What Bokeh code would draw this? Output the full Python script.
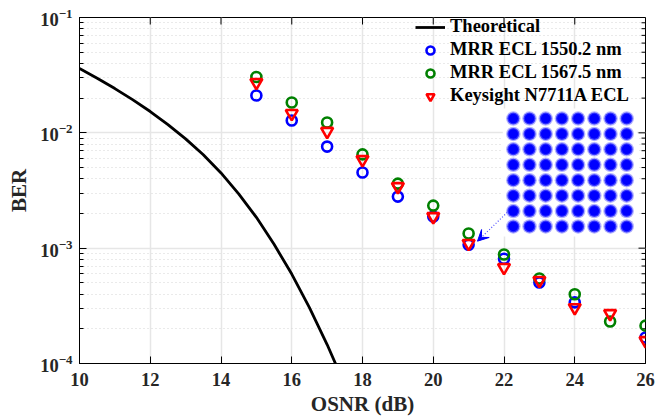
from bokeh.plotting import figure
from bokeh.models import (Range1d, LinearScale, FixedTicker, Legend, Arrow, VeeHead)
from bokeh.embed import file_html
from bokeh.resources import INLINE

# ---------------- data ----------------
theory_osnr = [10, 10.5, 11, 11.5, 12, 12.5, 13, 13.5, 14, 14.5, 15, 15.5, 16, 16.5, 17, 17.5]
theory_ber = [0.0361, 0.0297, 0.0242, 0.0194, 0.0153, 0.0118, 0.00887, 0.00646, 0.00449,
              0.00296, 0.00185, 0.00108, 0.000596, 0.000305, 0.000146, 0.0000653]

mrr1550_osnr = [15, 16, 17, 18, 19, 20, 21, 22, 23, 24, 26]
mrr1550_ber = [0.0211, 0.0128, 0.0076, 0.00453, 0.0028, 0.00188, 0.00107, 0.00081,
               0.000504, 0.000339, 0.000168]

mrr1567_osnr = [15, 16, 17, 18, 19, 20, 21, 22, 23, 24, 25, 26]
mrr1567_ber = [0.0305, 0.0183, 0.0123, 0.0065, 0.00363, 0.00234, 0.00134, 0.00088,
               0.000545, 0.000398, 0.000231, 0.000213]

keysight_osnr = [15, 16, 17, 18, 19, 20, 21, 22, 23, 24, 25, 26]
keysight_ber = [0.0273, 0.0147, 0.0103, 0.00586, 0.00342, 0.00188, 0.0011, 0.00068,
                0.000525, 0.000305, 0.000271, 0.000158]

x_ticks = [10, 12, 14, 16, 18, 20, 22, 24, 26]
y_decades = [1e-4, 1e-3, 1e-2, 1e-1]

# 64-QAM constellation levels (inset)
qam_levels = [-7, -5, -3, -1, 1, 3, 5, 7]

# ---------------- style / layout ----------------
FONT = "Liberation Serif"
TICK_SIZE = "18.5px"
LABEL_SIZE = "21px"
FRAME_W, FRAME_H = 566, 346
X0, X1 = 10, 26
Y0, Y1 = 1e-4, 1e-1
MAJOR_TICK_PX, MINOR_TICK_PX = 7, 4

p = figure(frame_width=FRAME_W, frame_height=FRAME_H,
           x_range=Range1d(X0, X1), y_range=Range1d(Y0, Y1),
           y_axis_type="log", output_backend="svg", toolbar_location=None,
           min_border_left=79, min_border_right=10, min_border_top=17, min_border_bottom=47)
p.background_fill_color = "white"
p.border_fill_color = "white"
p.outline_line_color = "black"
p.outline_line_width = 1

# grids
p.xgrid.ticker = FixedTicker(ticks=x_ticks)
p.xgrid.grid_line_color = "#e6e6e6"
p.xgrid.grid_line_width = 1.5
p.ygrid.grid_line_color = "#e6e6e6"
p.ygrid.grid_line_width = 1.5
p.ygrid.minor_grid_line_color = "#d4d4d4"
p.ygrid.minor_grid_line_dash = "1 3"
p.ygrid.minor_grid_line_width = 1

# axes
xa = p.xaxis[0]
xa.ticker = FixedTicker(ticks=x_ticks)
xa.axis_label = "OSNR (dB)"
ya = p.yaxis[0]
ya.axis_label = "BER"
for ax in (xa, ya):
    ax.axis_label_text_font = FONT
    ax.axis_label_text_font_style = "bold"
    ax.axis_label_text_font_size = LABEL_SIZE
    ax.axis_label_text_color = "#262626"
    ax.major_label_text_font = FONT
    ax.major_label_text_font_style = "bold"
    ax.major_label_text_font_size = TICK_SIZE
    ax.major_label_text_color = "#262626"
    ax.axis_line_color = "black"
    ax.major_tick_line_color = "black"
    ax.minor_tick_line_color = "black"
    ax.major_tick_out = 0
    ax.major_tick_in = MAJOR_TICK_PX
xa.minor_tick_in = 0
xa.minor_tick_out = 0
xa.major_label_standoff = 9
xa.axis_label_standoff = 3
ya.minor_tick_in = MINOR_TICK_PX
ya.minor_tick_out = 0
ya.major_label_standoff = 7
ya.axis_label_standoff = 6

# box ticks on top and right edges (inward), derived from the tick lists
decade_px = FRAME_H / 3.0
top_len = 10 ** (MAJOR_TICK_PX / decade_px)
p.segment(x0=x_ticks, y0=[Y1] * len(x_ticks), x1=x_ticks, y1=[Y1 / top_len] * len(x_ticks),
          line_color="black", line_width=1)
px_per_x = FRAME_W / (X1 - X0)
p.segment(x0=[X1] * len(y_decades), y0=y_decades,
          x1=[X1 - MAJOR_TICK_PX / px_per_x] * len(y_decades), y1=y_decades,
          line_color="black", line_width=1)
y_minor = [m * d for d in y_decades[:-1] for m in range(2, 10)]
p.segment(x0=[X1] * len(y_minor), y0=y_minor,
          x1=[X1 - MINOR_TICK_PX / px_per_x] * len(y_minor), y1=y_minor,
          line_color="black", line_width=1)

# ---------------- series ----------------
r_theory = p.line(theory_osnr, theory_ber, line_color="black", line_width=2.8)
r_b = p.scatter(mrr1550_osnr, mrr1550_ber, marker="circle", size=10, fill_color=None,
                line_color="#0000ff", line_width=2.6)
r_g = p.scatter(mrr1567_osnr, mrr1567_ber, marker="circle", size=10, fill_color=None,
                line_color="#008000", line_width=2.6)
r_r = p.scatter(keysight_osnr, keysight_ber, marker="inverted_triangle", size=12,
                fill_color=None, line_color="#ff0000", line_width=2.6)

# ---------------- inset constellation ----------------
p.extra_x_ranges = {"inset_x": Range1d(-60.56, 9.32)}
p.extra_x_scales = {"inset_x": LinearScale()}
p.extra_y_ranges = {"inset_y": Range1d(-24.77, 20.1)}
p.extra_y_scales = {"inset_y": LinearScale()}

p.quad(left=[-8.3], right=[8.3], bottom=[-8.3], top=[8.3], fill_color="white",
       line_color=None, x_range_name="inset_x", y_range_name="inset_y")
cx = [i for i in qam_levels for j in qam_levels]
cy = [j for i in qam_levels for j in qam_levels]
p.scatter(cx, cy, marker="circle", size=14.5, fill_color="#0000ff", fill_alpha=0.3,
          line_color=None, x_range_name="inset_x", y_range_name="inset_y")
p.scatter(cx, cy, marker="circle", size=12, fill_color="#0000ff", fill_alpha=0.7,
          line_color=None, x_range_name="inset_x", y_range_name="inset_y")
p.scatter(cx, cy, marker="circle", size=9.5, fill_color="#0000ff", fill_alpha=1.0,
          line_color=None, x_range_name="inset_x", y_range_name="inset_y")

# arrow from inset to the 21 dB point
ARROW_START = (22.09, 2.04e-3)
ARROW_END = (21.25, 1.15e-3)
p.add_layout(Arrow(x_start=ARROW_START[0], y_start=ARROW_START[1],
                   x_end=ARROW_END[0], y_end=ARROW_END[1],
                   line_color="#5050ff", line_width=1.2, line_dash="1 2",
                   end=VeeHead(size=11, fill_color="#0000ff", line_color="#0000ff")))

# ---------------- legend ----------------
legend = Legend(items=[("Theoretical", [r_theory]),
                       ("MRR ECL 1550.2 nm", [r_b]),
                       ("MRR ECL 1567.5 nm", [r_g]),
                       ("Keysight N7711A ECL", [r_r])],
                location=(336, 257), padding=0, margin=0, spacing=2,
                glyph_width=30, glyph_height=20, label_height=20, label_standoff=5,
                label_text_font=FONT, label_text_font_style="bold",
                label_text_font_size="18.5px", label_text_color="black",
                background_fill_alpha=0, border_line_color=None)
p.add_layout(legend, "center")

open("out.html", "w").write(file_html(p, INLINE))
